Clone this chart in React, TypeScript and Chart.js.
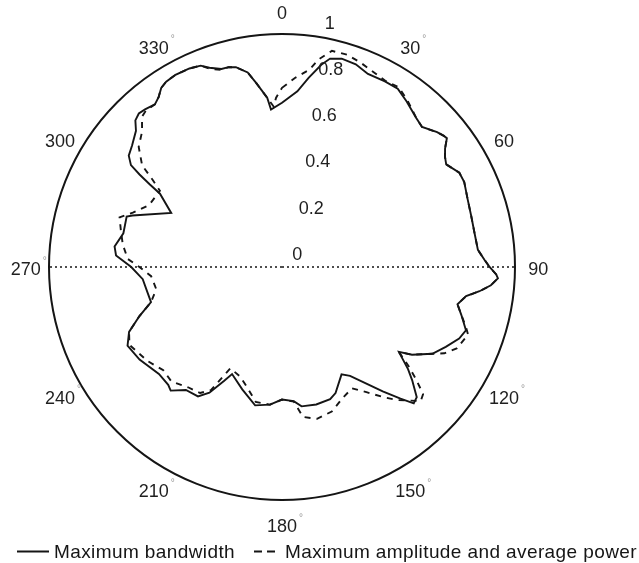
import { useEffect, useRef } from 'react';
import { Chart, registerables } from 'chart.js';

Chart.register(...registerables);

// Radiation pattern, normalised 0..1, sampled at the azimuths (degrees, clockwise from 0 at top)
const bandwidthAngles = [
  0, 5, 8, 11, 13, 16, 20, 24, 29, 33, 37, 42, 45, 49, 51, 52, 54, 56, 58, 62, 65, 70, 75, 80, 85, 88,
  90, 92, 93, 95, 97, 99, 102, 105, 109, 112, 116, 120, 124, 126, 129, 131, 134, 136, 138, 141, 144,
  148, 151, 157, 160, 166, 172, 175, 180, 185, 191, 198, 205, 207, 210, 213, 218, 222, 224, 229, 237,
  243, 247, 251, 255, 259, 265, 270, 274, 277, 282, 288, 289, 296, 301, 302, 303, 304, 306, 309, 313,
  315, 317, 319, 322, 324, 326, 328, 331, 335, 338, 340, 343, 345, 347, 350, 352, 355, 356,
];
const bandwidthValues = [
  0.705, 0.757, 0.82, 0.884, 0.918, 0.93, 0.926, 0.907, 0.911, 0.912, 0.889, 0.861, 0.85, 0.882, 0.894,
  0.898, 0.865, 0.844, 0.831, 0.862, 0.863, 0.848, 0.841, 0.839, 0.844, 0.87,
  0.891, 0.92, 0.928, 0.9, 0.854, 0.8, 0.77, 0.797, 0.835, 0.82, 0.782, 0.745, 0.673, 0.62, 0.696, 0.74,
  0.804, 0.814, 0.76, 0.687, 0.62,
  0.551, 0.527, 0.588, 0.604, 0.608, 0.604, 0.578, 0.569, 0.593, 0.605, 0.552, 0.507, 0.549, 0.623,
  0.662, 0.67, 0.714, 0.703, 0.7, 0.729,
  0.744, 0.713, 0.647, 0.582, 0.587, 0.6, 0.647, 0.714, 0.724, 0.696, 0.701, 0.679, 0.529, 0.611, 0.67,
  0.729, 0.782, 0.813, 0.828, 0.857,
  0.89, 0.901, 0.896, 0.886, 0.901, 0.927, 0.938, 0.943, 0.94, 0.932, 0.91, 0.889, 0.888, 0.88, 0.848,
  0.798, 0.729, 0.677,
];

const amplitudeAngles = [
  0, 4, 8, 10, 13, 17, 21, 29, 33, 37, 42, 45, 49, 51, 52, 54, 56, 58, 62, 65, 70, 75, 80, 85, 88,
  90, 92, 93, 95, 97, 99, 102, 105, 108, 110, 115, 118, 120, 124, 126, 128, 130, 132, 134, 139, 142,
  146, 150, 155, 161, 167, 172, 175, 180, 185, 191, 196, 201, 207, 210, 213, 218, 224, 229, 235,
  243, 247, 251, 255, 260, 266, 270, 273, 278, 283, 287, 290, 295, 302, 304, 306, 310, 314,
  317, 319, 322, 324, 326, 328, 331, 335, 338, 340, 343, 345, 347, 350, 352, 355, 357, 358,
];
const amplitudeValues = [
  0.769, 0.814, 0.856, 0.905, 0.952, 0.953, 0.94, 0.914, 0.92, 0.895, 0.861, 0.85, 0.882, 0.894, 0.898,
  0.865, 0.844, 0.831, 0.862, 0.863, 0.848, 0.841, 0.839, 0.844, 0.87,
  0.891, 0.92, 0.928, 0.9, 0.854, 0.8, 0.77, 0.797, 0.83, 0.85, 0.827, 0.789, 0.745, 0.673, 0.62, 0.688,
  0.752, 0.815, 0.828, 0.757, 0.709,
  0.648, 0.601, 0.619, 0.656, 0.669, 0.65, 0.58, 0.569, 0.593, 0.59, 0.539, 0.503, 0.488, 0.61, 0.645,
  0.655, 0.683, 0.675, 0.704,
  0.735, 0.713, 0.647, 0.582, 0.548, 0.563, 0.612, 0.663, 0.69, 0.71, 0.729, 0.681, 0.629, 0.618, 0.67,
  0.742, 0.803, 0.835,
  0.881, 0.89, 0.886, 0.901, 0.927, 0.938, 0.943, 0.94, 0.932, 0.905, 0.885, 0.888, 0.88, 0.848, 0.798,
  0.729, 0.69, 0.727,
];

// Azimuth labels around the rim; the ones printed with a degree sign
const azimuthTicks = [0, 30, 60, 90, 120, 150, 180, 210, 240, 270, 300, 330];
const azimuthWithDegree = [30, 120, 150, 180, 210, 240, 270, 330];

const seriesNames = ['Maximum bandwidth', 'Maximum amplitude and average power'];

const FONT = '"Liberation Sans", Arial, Helvetica, sans-serif';
const INK = '#151515';
const TEXT = '#1f1f1f';
const RADIAL_LABEL_AZIMUTH = 8; // radial tick labels run along this bearing
const DASH = [6, 6];

// one slot per degree; azimuths that were not sampled stay empty and the line spans them
function perDegree(angles: number[], values: number[]): (number | null)[] {
  const out: (number | null)[] = new Array(360).fill(null);
  angles.forEach((a, i) => {
    out[a % 360] = values[i];
  });
  return out;
}

const polarText = {
  id: 'polarText',
  afterDraw(chart: any) {
    const scale = chart.scales.r;
    const ctx: CanvasRenderingContext2D = chart.ctx;
    ctx.save();

    // azimuth labels at 1.1 × the outer radius
    ctx.textAlign = 'center';
    ctx.textBaseline = 'middle';
    azimuthTicks.forEach((deg) => {
      const p = scale.getPointPositionForValue(deg % 360, 1.1);
      const x = p.x;
      const y = p.y + 3.5;
      const text = String(deg);
      ctx.fillStyle = TEXT;
      ctx.font = `18px ${FONT}`;
      ctx.fillText(text, x, y);
      if (azimuthWithDegree.includes(deg)) {
        const w = ctx.measureText(text).width;
        ctx.font = `10px ${FONT}`;
        ctx.fillStyle = '#9a9a9a';
        ctx.fillText('°', x + w / 2 + 4, y - 9);
      }
    });

    // radial tick labels
    ctx.fillStyle = TEXT;
    ctx.font = `18px ${FONT}`;
    ctx.textAlign = 'left';
    ctx.textBaseline = 'alphabetic';
    scale.ticks.forEach((t: any) => {
      const p = scale.getPointPositionForValue(RADIAL_LABEL_AZIMUTH, t.value + 0.01);
      const text = String(Number(t.value.toFixed(2)));
      ctx.fillText('  ' + text, p.x, p.y - 5);
    });

    // legend
    const ly = 551.5;
    ctx.strokeStyle = INK;
    ctx.lineWidth = 2;
    ctx.setLineDash([]);
    ctx.beginPath();
    ctx.moveTo(17, ly);
    ctx.lineTo(49, ly);
    ctx.stroke();
    ctx.setLineDash([8, 5]);
    ctx.beginPath();
    ctx.moveTo(254, ly);
    ctx.lineTo(280, ly);
    ctx.stroke();
    ctx.setLineDash([]);
    ctx.fillStyle = INK;
    ctx.font = `19px ${FONT}`;
    (ctx as any).letterSpacing = '0.4px';
    ctx.textBaseline = 'alphabetic';
    ctx.fillText(seriesNames[0], 54, 558);
    ctx.fillText(seriesNames[1], 285, 558);

    ctx.restore();
  },
};

export default function App() {
  const ref = useRef<HTMLCanvasElement>(null);

  useEffect(() => {
    const canvas = ref.current;
    if (!canvas) return;
    const labels = Array.from({ length: 360 }, (_, i) => String(i));
    const chart = new Chart(canvas, {
      type: 'radar',
      data: {
        labels,
        datasets: [
          {
            label: seriesNames[0],
            data: perDegree(bandwidthAngles, bandwidthValues),
            borderColor: INK,
            backgroundColor: 'transparent',
            borderWidth: 1.9,
            pointRadius: 0,
            pointHitRadius: 0,
            fill: false,
            spanGaps: true,
            tension: 0,
          },
          {
            label: seriesNames[1],
            data: perDegree(amplitudeAngles, amplitudeValues),
            borderColor: INK,
            backgroundColor: 'transparent',
            borderWidth: 1.9,
            borderDash: DASH,
            pointRadius: 0,
            pointHitRadius: 0,
            fill: false,
            spanGaps: true,
            tension: 0,
          },
        ],
      },
      options: {
        responsive: false,
        animation: false,
        layout: { padding: { left: 49, right: 123, top: 34, bottom: 62 } },
        plugins: {
          legend: { display: false },
          tooltip: { enabled: false },
        },
        scales: {
          r: {
            min: 0,
            max: 1,
            startAngle: 0,
            ticks: { display: false, stepSize: 0.2 },
            pointLabels: { display: false },
            grid: {
              circular: true,
              color: INK,
              lineWidth: (c: any) => (c.tick && c.tick.value === 1 ? 2 : 0),
            },
            angleLines: {
              display: true,
              color: INK,
              lineWidth: (c: any) => (c.index === 90 || c.index === 270 ? 1.6 : 0),
              borderDash: [2, 3],
            },
          },
        },
      } as any,
      plugins: [polarText],
    });
    return () => chart.destroy();
  }, []);

  return (
    <div style={{ position: 'fixed', left: 0, top: 0, width: 639, height: 563, background: '#fff' }}>
      <canvas ref={ref} width={639} height={563} style={{ display: 'block', width: 639, height: 563 }} />
    </div>
  );
}
